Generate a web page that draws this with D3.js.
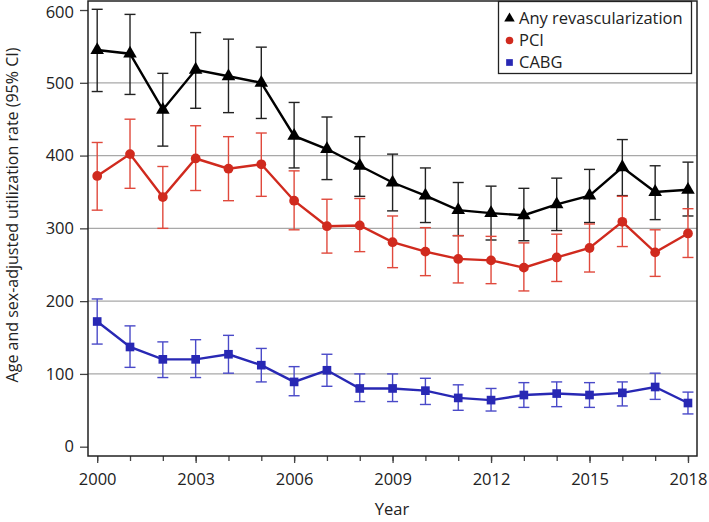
<!DOCTYPE html>
<html>
<head>
<meta charset="utf-8">
<script src="https://cdn.jsdelivr.net/npm/d3@7"></script>
<style>
  html, body { margin: 0; padding: 0; background: #fff; }
  svg { display: block; font-family: "Open Sans", sans-serif; }
</style>
</head>
<body>
<svg id="chart" width="709" height="522"></svg>
<script>
const years = [2000,2001,2002,2003,2004,2005,2006,2007,2008,2009,2010,2011,2012,2013,2014,2015,2016,2017,2018];
const anyRate = [545,540,463,518,509,500,427,409,386,363,345,325,321,318,333,345,384,350,353];
const anyLow  = [488,484,413,465,459,451,383,367,344,324,308,290,284,283,297,308,345,312,317];
const anyHigh = [601,594,513,569,560,549,473,453,426,402,383,363,358,355,369,381,422,386,391];
const pciRate = [372,402,343,396,382,388,338,303,304,281,268,258,256,246,260,273,309,267,293];
const pciLow  = [325,355,300,352,338,344,298,266,268,246,235,225,224,214,227,240,275,234,260];
const pciHigh = [418,450,385,441,426,431,379,340,341,317,301,290,289,280,292,306,344,298,327];
const cabgRate = [172,137,120,120,127,112,89,105,80,80,77,67,64,71,73,71,74,82,60];
const cabgLow  = [141,109,95,95,101,89,70,83,62,62,58,50,49,54,55,54,56,65,45];
const cabgHigh = [203,166,144,147,153,135,110,127,100,100,94,85,80,88,89,88,89,101,75];
const xTickYears = [2000,2003,2006,2009,2012,2015,2018];
const yTicks = [0,100,200,300,400,500,600];
const seriesNames = ["Any revascularization","PCI","CABG"];

const FS = 16.5;
const svg = d3.select("#chart");
const L = 88, R = 697, T = 1, B = 456;

const x = d3.scaleLinear().domain([1999.72, 2018.275]).range([L, R]);
const y = d3.scaleLinear().domain([-12.8, 612.4]).range([B, T]);

// gridlines
svg.append("g").selectAll("line").data(yTicks.filter(v => v > 0 && v < 600)).join("line")
  .attr("x1", L).attr("x2", R).attr("y1", d => y(d)).attr("y2", d => y(d))
  .attr("stroke", "#a8a8a8").attr("stroke-width", 1.3);

// axes
const yAxis = d3.axisLeft(y).tickValues(yTicks).tickSize(8).tickPadding(6).tickFormat(d3.format("d"));
const gy = svg.append("g").attr("transform", `translate(${L},0)`).call(yAxis);
gy.select(".domain").remove();
gy.selectAll(".tick line").attr("stroke", "#444").attr("stroke-width", 1.3);
gy.selectAll("text").attr("font-size", FS).attr("fill", "#222").attr("font-family", "Open Sans")
  .attr("dy", d => d === 600 ? "0.48em" : "0.32em");

const xAxisMinor = d3.axisBottom(x).tickValues(years).tickSize(5).tickFormat("");
const gxm = svg.append("g").attr("transform", `translate(0,${B})`).call(xAxisMinor);
gxm.select(".domain").remove();
gxm.selectAll(".tick line").attr("stroke", "#444").attr("stroke-width", 1.3);

const xAxis = d3.axisBottom(x).tickValues(xTickYears).tickSize(7).tickPadding(10).tickFormat(d3.format("d"));
const gx = svg.append("g").attr("transform", `translate(0,${B})`).call(xAxis);
gx.select(".domain").remove();
gx.selectAll(".tick line").attr("stroke", "#444").attr("stroke-width", 1.3);
gx.selectAll("text").attr("font-size", FS).attr("fill", "#222").attr("font-family", "Open Sans");

// frame
svg.append("rect").attr("x", L).attr("y", T).attr("width", R - L).attr("height", B - T)
  .attr("fill", "none").attr("stroke", "#222").attr("stroke-width", 1.5);

// titles
svg.append("text").attr("x", 392).attr("y", 515).attr("text-anchor", "middle")
  .attr("font-size", FS).attr("fill", "#222").text("Year");
svg.append("text").attr("transform", `translate(17.5,215) rotate(-90)`).attr("text-anchor", "middle")
  .attr("font-size", 16).attr("fill", "#222").text("Age and sex-adjusted utilization rate (95% CI)");

const series = [
  {name: seriesNames[0], rate: anyRate, low: anyLow, high: anyHigh, color: "#000000", ecolor: "#222222", sym: d3.symbolTriangle, size: 80},
  {name: seriesNames[1], rate: pciRate, low: pciLow, high: pciHigh, color: "#d02a1e", ecolor: "#e0493c", sym: d3.symbolCircle, size: 75},
  {name: seriesNames[2], rate: cabgRate, low: cabgLow, high: cabgHigh, color: "#2828b4", ecolor: "#4a4ac8", sym: d3.symbolSquare, size: 75}
];

const capW = 5.5;
series.forEach(s => {
  const g = svg.append("g");
  const idx = d3.range(years.length);
  g.selectAll("line.v").data(idx).join("line")
    .attr("x1", i => x(years[i])).attr("x2", i => x(years[i]))
    .attr("y1", i => y(s.low[i])).attr("y2", i => y(s.high[i]))
    .attr("stroke", s.ecolor).attr("stroke-width", 1.4);
  g.selectAll("line.h").data(idx).join("line")
    .attr("x1", i => x(years[i]) - capW).attr("x2", i => x(years[i]) + capW)
    .attr("y1", i => y(s.high[i])).attr("y2", i => y(s.high[i]))
    .attr("stroke", s.ecolor).attr("stroke-width", 1.4);
  g.selectAll("line.l").data(idx).join("line")
    .attr("x1", i => x(years[i]) - capW).attr("x2", i => x(years[i]) + capW)
    .attr("y1", i => y(s.low[i])).attr("y2", i => y(s.low[i]))
    .attr("stroke", s.ecolor).attr("stroke-width", 1.4);
  const line = d3.line().x((d, i) => x(years[i])).y(d => y(d));
  g.append("path").datum(s.rate).attr("d", line)
    .attr("fill", "none").attr("stroke", s.color).attr("stroke-width", 2.4);
  g.selectAll("path.m").data(idx).join("path")
    .attr("transform", i => `translate(${x(years[i])},${y(s.rate[i])})`)
    .attr("d", d3.symbol().type(s.sym).size(s.size))
    .attr("fill", s.color);
});

// legend
const lg = svg.append("g");
lg.append("rect").attr("x", 498.5).attr("y", 1.5).attr("width", 193).attr("height", 72)
  .attr("fill", "#fff").attr("stroke", "#222").attr("stroke-width", 1.3);
series.forEach((s, i) => {
  const cy = 18.5 + i * 22;
  lg.append("path").attr("transform", `translate(509.5,${cy})`)
    .attr("d", d3.symbol().type(s.sym).size(s.size * 0.6)).attr("fill", s.color);
  lg.append("text").attr("x", 519).attr("y", cy).attr("dy", "0.36em")
    .attr("font-size", FS).attr("fill", "#222").text(s.name);
});
</script>
</body>
</html>
